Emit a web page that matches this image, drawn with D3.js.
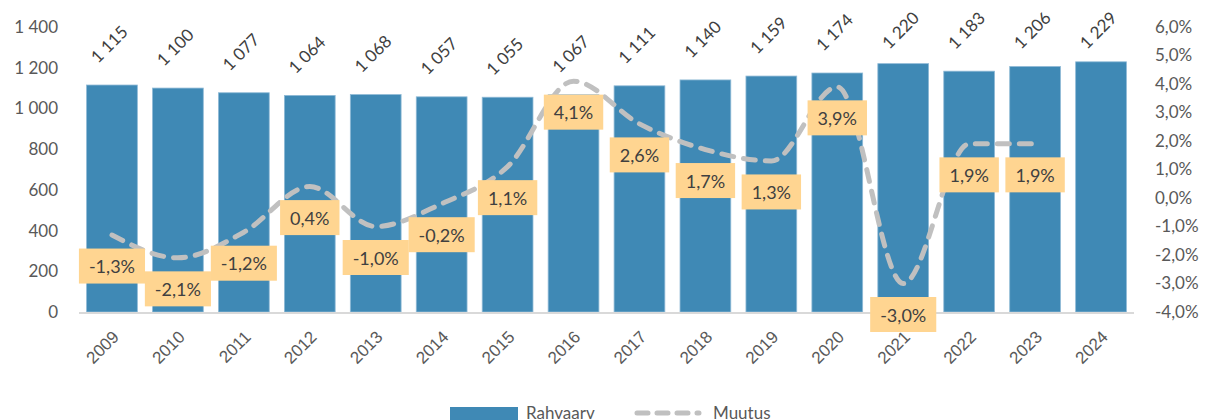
<!DOCTYPE html>
<html>
<head>
<meta charset="utf-8">
<script src="https://cdn.jsdelivr.net/npm/d3@7"></script>
<style>
  body { margin: 0; background: #fff; }
  svg { display: block; font-family: 'Lato', 'Open Sans', sans-serif; }
</style>
</head>
<body>
<svg id="chart"></svg>
<script>
// 資料
const years = ['2009', '2010', '2011', '2012', '2013', '2014', '2015', '2016',
  '2017', '2018', '2019', '2020', '2021', '2022', '2023', '2024']
const population = [1115, 1100, 1077, 1064, 1068, 1057, 1055, 1067,
  1111, 1140, 1159, 1174, 1220, 1183, 1206, 1229]
// 最後一年沒有變化值
const change = [-0.013, -0.021, -0.012, 0.004, -0.010, -0.002, 0.011, 0.041,
  0.026, 0.017, 0.013, 0.039, -0.030, 0.019, 0.019, null]
const leftTicks = [0, 200, 400, 600, 800, 1000, 1200, 1400]
const rightTicks = [-0.04, -0.03, -0.02, -0.01, 0, 0.01, 0.02, 0.03, 0.04, 0.05, 0.06]

const width = 1208, height = 420
const margin = { top: 27, right: 74, bottom: 108, left: 79 }

const BAR_COLOR = '#3f89b5'
const LINE_COLOR = '#c0c0c0'
const LABEL_BG = '#ffd591'
const TEXT = '#595959'

const locale = d3.formatLocale({ decimal: ',', thousands: ' ', grouping: [3], currency: ['', ''], minus: '-' })
const fmtNum = locale.format(',')
const fmtPct = locale.format('.1%')

const svg = d3.select('#chart').attr('width', width).attr('height', height)

const x = d3.scaleBand().domain(years)
  .range([margin.left, width - margin.right]).paddingInner(0.23).paddingOuter(0.115)
const y = d3.scaleLinear().domain([0, 1400]).range([height - margin.bottom, margin.top])
const y2 = d3.scaleLinear().domain([-0.04, 0.06]).range([height - margin.bottom, margin.top])

// ─── 左軸 ───
svg.append('g')
  .attr('transform', `translate(${margin.left - 21},0)`)
  .call(d3.axisLeft(y).tickValues(leftTicks).tickSize(0).tickPadding(0).tickFormat(fmtNum))
  .call(g => g.select('.domain').remove())
  .call(g => g.selectAll('.tick text')
    .attr('fill', TEXT).attr('font-size', '17px').attr('font-family', "'Lato', sans-serif"))

// ─── 右軸 ───
svg.append('g')
  .attr('transform', `translate(${width - margin.right + 21},0)`)
  .call(d3.axisRight(y2).tickValues(rightTicks).tickSize(0).tickPadding(0).tickFormat(fmtPct))
  .call(g => g.select('.domain').remove())
  .call(g => g.selectAll('.tick text')
    .attr('fill', TEXT).attr('font-size', '17px').attr('font-family', "'Lato', sans-serif"))

// ─── 柱 ───
svg.append('g').selectAll('rect')
  .data(years)
  .join('rect')
  .attr('x', d => x(d))
  .attr('y', (d, i) => y(population[i]))
  .attr('width', x.bandwidth())
  .attr('height', (d, i) => y(0) - y(population[i]))
  .attr('fill', BAR_COLOR)
  .attr('stroke', '#8fbad6')
  .attr('stroke-width', 0.8)

// 柱值（旋轉 45°，頂端不超出圖框）
svg.append('g').selectAll('g')
  .data(years)
  .join('g')
  .attr('transform', (d, i) => `translate(${x(d) + x.bandwidth() / 2 - 14},${Math.max(y(population[i]) - 21, 50)})`)
  .append('text')
  .attr('transform', 'rotate(-45)')
  .attr('font-size', '17px')
  .attr('fill', '#404040')
  .text((d, i) => fmtNum(population[i]))

// ─── X 軸 ───
svg.append('line')
  .attr('x1', margin.left).attr('x2', width - margin.right)
  .attr('y1', y(0) + 1).attr('y2', y(0) + 1)
  .attr('stroke', '#d9d9d9').attr('stroke-width', 2)

svg.append('g')
  .attr('transform', `translate(0,${y(0)})`)
  .call(d3.axisBottom(x).tickSize(0).tickPadding(0))
  .call(g => g.select('.domain').remove())
  .call(g => g.selectAll('.tick text')
    .attr('fill', TEXT).attr('font-size', '17px')
    .attr('text-anchor', 'end')
    .attr('dy', null).attr('y', null)
    .attr('transform', 'translate(8,26) rotate(-45)'))

// ─── 變化線 ───
const pts = years.map((d, i) => ({ year: d, v: change[i] })).filter(d => d.v !== null)
const line = d3.line()
  .x(d => x(d.year) + x.bandwidth() / 2)
  .y(d => y2(d.v))
  .curve(d3.curveMonotoneX)

svg.append('path')
  .attr('d', line(pts))
  .attr('fill', 'none')
  .attr('stroke', LINE_COLOR)
  .attr('stroke-width', 5)
  .attr('stroke-linecap', 'round')
  .attr('stroke-dasharray', '12,10')

// 變化標籤
const lab = svg.append('g')
pts.forEach(d => {
  const cx = x(d.year) + x.bandwidth() / 2
  const cy = y2(d.v) + 31
  const g = lab.append('g')
  const t = g.append('text')
    .attr('x', cx).attr('y', cy)
    .attr('text-anchor', 'middle')
    .attr('dominant-baseline', 'central')
    .attr('font-size', '18px')
    .attr('fill', '#404040')
    .text(fmtPct(d.v))
  const bb = t.node().getBBox()
  g.insert('rect', 'text')
    .attr('x', cx - bb.width / 2 - 10)
    .attr('y', cy - 17.5)
    .attr('width', bb.width + 20)
    .attr('height', 35)
    .attr('fill', LABEL_BG)
})

// ─── 圖例 ───
const legend = svg.append('g')
legend.append('rect')
  .attr('x', 450).attr('y', 407).attr('width', 68).attr('height', 13)
  .attr('fill', BAR_COLOR)
legend.append('text')
  .attr('x', 526).attr('y', 419)
  .attr('font-size', '17px').attr('fill', TEXT)
  .text('Rahvaarv')
legend.append('line')
  .attr('x1', 637).attr('x2', 699).attr('y1', 413).attr('y2', 413)
  .attr('stroke', LINE_COLOR).attr('stroke-width', 5)
  .attr('stroke-linecap', 'round').attr('stroke-dasharray', '11,9')
legend.append('text')
  .attr('x', 713).attr('y', 419)
  .attr('font-size', '17px').attr('fill', TEXT)
  .text('Muutus')
</script>
</body>
</html>
